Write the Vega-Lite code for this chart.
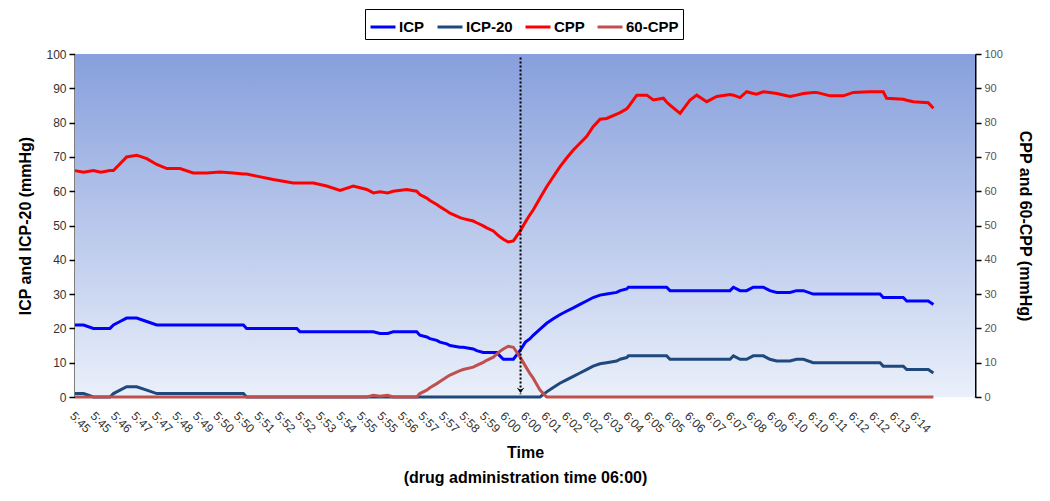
{
  "$schema": "https://vega.github.io/schema/vega-lite/v6.json",
  "width": 900,
  "height": 343,
  "autosize": "none",
  "padding": {"left": 75, "top": 54, "right": 75, "bottom": 104},
  "background": "white",
  "config": {
    "font": "Liberation Sans",
    "view": {"stroke": null},
    "axis": {"grid": false, "labelFont": "Liberation Sans", "titleFont": "Liberation Sans", "titleFontWeight": "bold", "titleColor": "black"},
    "axisX": {"labelOverlap": false, "labelFlush": false, "labelBound": false, "labelSeparation": 0}
  },
  "datasets": {
    "series": [
      {"m": 0, "ICP": 21, "ICP-20": 1, "CPP": 66, "60-CPP": 0},
      {"m": 0.3, "ICP": 21, "ICP-20": 1, "CPP": 65.5, "60-CPP": 0},
      {"m": 0.64, "ICP": 20, "ICP-20": 0, "CPP": 66, "60-CPP": 0},
      {"m": 0.9, "ICP": 20, "ICP-20": 0, "CPP": 65.5, "60-CPP": 0},
      {"m": 1.22, "ICP": 20, "ICP-20": 0, "CPP": 66, "60-CPP": 0},
      {"m": 1.34, "ICP": 21, "ICP-20": 1, "CPP": 66, "60-CPP": 0},
      {"m": 1.57, "ICP": 22, "ICP-20": 2, "CPP": 68, "60-CPP": 0},
      {"m": 1.8, "ICP": 23, "ICP-20": 3, "CPP": 70, "60-CPP": 0},
      {"m": 2.15, "ICP": 23, "ICP-20": 3, "CPP": 70.5, "60-CPP": 0},
      {"m": 2.5, "ICP": 22, "ICP-20": 2, "CPP": 69.5, "60-CPP": 0},
      {"m": 2.85, "ICP": 21, "ICP-20": 1, "CPP": 67.8, "60-CPP": 0},
      {"m": 3.2, "ICP": 21, "ICP-20": 1, "CPP": 66.6, "60-CPP": 0},
      {"m": 3.66, "ICP": 21, "ICP-20": 1, "CPP": 66.6, "60-CPP": 0},
      {"m": 4.12, "ICP": 21, "ICP-20": 1, "CPP": 65.3, "60-CPP": 0},
      {"m": 4.59, "ICP": 21, "ICP-20": 1, "CPP": 65.3, "60-CPP": 0},
      {"m": 5.05, "ICP": 21, "ICP-20": 1, "CPP": 65.6, "60-CPP": 0},
      {"m": 5.52, "ICP": 21, "ICP-20": 1, "CPP": 65.3, "60-CPP": 0},
      {"m": 5.87, "ICP": 21, "ICP-20": 1, "CPP": 65, "60-CPP": 0},
      {"m": 5.98, "ICP": 20, "ICP-20": 0, "CPP": 65, "60-CPP": 0},
      {"m": 6.33, "ICP": 20, "ICP-20": 0, "CPP": 64.4, "60-CPP": 0},
      {"m": 6.91, "ICP": 20, "ICP-20": 0, "CPP": 63.4, "60-CPP": 0},
      {"m": 7.61, "ICP": 20, "ICP-20": 0, "CPP": 62.4, "60-CPP": 0},
      {"m": 7.73, "ICP": 20, "ICP-20": 0, "CPP": 62.4, "60-CPP": 0},
      {"m": 7.84, "ICP": 19, "ICP-20": 0, "CPP": 62.4, "60-CPP": 0},
      {"m": 8.31, "ICP": 19, "ICP-20": 0, "CPP": 62.4, "60-CPP": 0},
      {"m": 8.77, "ICP": 19, "ICP-20": 0, "CPP": 61.5, "60-CPP": 0},
      {"m": 9.24, "ICP": 19, "ICP-20": 0, "CPP": 60.2, "60-CPP": 0},
      {"m": 9.7, "ICP": 19, "ICP-20": 0, "CPP": 61.5, "60-CPP": 0},
      {"m": 10.17, "ICP": 19, "ICP-20": 0, "CPP": 60.5, "60-CPP": 0},
      {"m": 10.4, "ICP": 19, "ICP-20": 0, "CPP": 59.5, "60-CPP": 0.5},
      {"m": 10.63, "ICP": 18.5, "ICP-20": 0, "CPP": 59.8, "60-CPP": 0.2},
      {"m": 10.9, "ICP": 18.5, "ICP-20": 0, "CPP": 59.5, "60-CPP": 0.5},
      {"m": 11.09, "ICP": 19, "ICP-20": 0, "CPP": 60, "60-CPP": 0},
      {"m": 11.56, "ICP": 19, "ICP-20": 0, "CPP": 60.5, "60-CPP": 0},
      {"m": 11.91, "ICP": 19, "ICP-20": 0, "CPP": 60, "60-CPP": 0},
      {"m": 12.02, "ICP": 18, "ICP-20": 0, "CPP": 59, "60-CPP": 1},
      {"m": 12.26, "ICP": 17.5, "ICP-20": 0, "CPP": 58, "60-CPP": 2},
      {"m": 12.37, "ICP": 17, "ICP-20": 0, "CPP": 57.3, "60-CPP": 2.7},
      {"m": 12.61, "ICP": 16.5, "ICP-20": 0, "CPP": 56.1, "60-CPP": 3.9},
      {"m": 12.72, "ICP": 16, "ICP-20": 0, "CPP": 55.5, "60-CPP": 4.5},
      {"m": 12.96, "ICP": 15.5, "ICP-20": 0, "CPP": 54.2, "60-CPP": 5.8},
      {"m": 13.07, "ICP": 15, "ICP-20": 0, "CPP": 53.6, "60-CPP": 6.4},
      {"m": 13.42, "ICP": 14.5, "ICP-20": 0, "CPP": 52.3, "60-CPP": 7.7},
      {"m": 13.53, "ICP": 14.5, "ICP-20": 0, "CPP": 52, "60-CPP": 8},
      {"m": 13.88, "ICP": 14, "ICP-20": 0, "CPP": 51.3, "60-CPP": 8.7},
      {"m": 14.0, "ICP": 13.5, "ICP-20": 0, "CPP": 50.8, "60-CPP": 9.2},
      {"m": 14.23, "ICP": 13, "ICP-20": 0, "CPP": 49.9, "60-CPP": 10.1},
      {"m": 14.35, "ICP": 13, "ICP-20": 0, "CPP": 49.3, "60-CPP": 10.7},
      {"m": 14.58, "ICP": 13, "ICP-20": 0, "CPP": 48.4, "60-CPP": 11.6},
      {"m": 14.7, "ICP": 13, "ICP-20": 0, "CPP": 47.5, "60-CPP": 12.5},
      {"m": 14.81, "ICP": 12, "ICP-20": 0, "CPP": 46.7, "60-CPP": 13.3},
      {"m": 14.93, "ICP": 11, "ICP-20": 0, "CPP": 46, "60-CPP": 14},
      {"m": 15.1, "ICP": 11, "ICP-20": 0, "CPP": 45.2, "60-CPP": 14.8},
      {"m": 15.28, "ICP": 11, "ICP-20": 0, "CPP": 45.5, "60-CPP": 14.5},
      {"m": 15.51, "ICP": 13.5, "ICP-20": 0, "CPP": 48.3, "60-CPP": 11.7},
      {"m": 15.7, "ICP": 16, "ICP-20": 0, "CPP": 51, "60-CPP": 9},
      {"m": 15.86, "ICP": 17, "ICP-20": 0, "CPP": 53.2, "60-CPP": 6.8},
      {"m": 15.97, "ICP": 18, "ICP-20": 0, "CPP": 54.5, "60-CPP": 5.5},
      {"m": 16.21, "ICP": 19.8, "ICP-20": 0, "CPP": 58, "60-CPP": 2},
      {"m": 16.44, "ICP": 21.5, "ICP-20": 1.5, "CPP": 61.3, "60-CPP": 0},
      {"m": 16.67, "ICP": 22.8, "ICP-20": 2.8, "CPP": 64.2, "60-CPP": 0},
      {"m": 16.9, "ICP": 24, "ICP-20": 4, "CPP": 67.1, "60-CPP": 0},
      {"m": 17.13, "ICP": 25, "ICP-20": 5, "CPP": 69.6, "60-CPP": 0},
      {"m": 17.37, "ICP": 26, "ICP-20": 6, "CPP": 72, "60-CPP": 0},
      {"m": 17.6, "ICP": 27, "ICP-20": 7, "CPP": 74, "60-CPP": 0},
      {"m": 17.83, "ICP": 28, "ICP-20": 8, "CPP": 75.9, "60-CPP": 0},
      {"m": 18.06, "ICP": 29, "ICP-20": 9, "CPP": 78.8, "60-CPP": 0},
      {"m": 18.3, "ICP": 29.7, "ICP-20": 9.7, "CPP": 81, "60-CPP": 0},
      {"m": 18.53, "ICP": 30, "ICP-20": 10, "CPP": 81.2, "60-CPP": 0},
      {"m": 18.88, "ICP": 30.5, "ICP-20": 10.5, "CPP": 82.5, "60-CPP": 0},
      {"m": 19.0, "ICP": 31, "ICP-20": 11, "CPP": 82.9, "60-CPP": 0},
      {"m": 19.23, "ICP": 31.5, "ICP-20": 11.5, "CPP": 84, "60-CPP": 0},
      {"m": 19.29, "ICP": 32, "ICP-20": 12, "CPP": 84.6, "60-CPP": 0},
      {"m": 19.58, "ICP": 32, "ICP-20": 12, "CPP": 88, "60-CPP": 0},
      {"m": 19.93, "ICP": 32, "ICP-20": 12, "CPP": 88, "60-CPP": 0},
      {"m": 20.16, "ICP": 32, "ICP-20": 12, "CPP": 86.6, "60-CPP": 0},
      {"m": 20.51, "ICP": 32, "ICP-20": 12, "CPP": 87.1, "60-CPP": 0},
      {"m": 20.62, "ICP": 32, "ICP-20": 12, "CPP": 86, "60-CPP": 0},
      {"m": 20.74, "ICP": 31, "ICP-20": 11, "CPP": 85.1, "60-CPP": 0},
      {"m": 21.09, "ICP": 31, "ICP-20": 11, "CPP": 82.7, "60-CPP": 0},
      {"m": 21.44, "ICP": 31, "ICP-20": 11, "CPP": 86.6, "60-CPP": 0},
      {"m": 21.67, "ICP": 31, "ICP-20": 11, "CPP": 88, "60-CPP": 0},
      {"m": 22.02, "ICP": 31, "ICP-20": 11, "CPP": 86.1, "60-CPP": 0},
      {"m": 22.37, "ICP": 31, "ICP-20": 11, "CPP": 87.6, "60-CPP": 0},
      {"m": 22.83, "ICP": 31, "ICP-20": 11, "CPP": 88.2, "60-CPP": 0},
      {"m": 22.95, "ICP": 32, "ICP-20": 12, "CPP": 88, "60-CPP": 0},
      {"m": 23.18, "ICP": 31, "ICP-20": 11, "CPP": 87.3, "60-CPP": 0},
      {"m": 23.41, "ICP": 31, "ICP-20": 11, "CPP": 89, "60-CPP": 0},
      {"m": 23.64, "ICP": 32, "ICP-20": 12, "CPP": 88.5, "60-CPP": 0},
      {"m": 23.76, "ICP": 32, "ICP-20": 12, "CPP": 88.3, "60-CPP": 0},
      {"m": 23.99, "ICP": 32, "ICP-20": 12, "CPP": 89, "60-CPP": 0},
      {"m": 24.22, "ICP": 31, "ICP-20": 11, "CPP": 88.8, "60-CPP": 0},
      {"m": 24.46, "ICP": 30.5, "ICP-20": 10.5, "CPP": 88.5, "60-CPP": 0},
      {"m": 24.92, "ICP": 30.5, "ICP-20": 10.5, "CPP": 87.6, "60-CPP": 0},
      {"m": 25.15, "ICP": 31, "ICP-20": 11, "CPP": 88, "60-CPP": 0},
      {"m": 25.39, "ICP": 31, "ICP-20": 11, "CPP": 88.5, "60-CPP": 0},
      {"m": 25.73, "ICP": 30, "ICP-20": 10, "CPP": 88.8, "60-CPP": 0},
      {"m": 25.85, "ICP": 30, "ICP-20": 10, "CPP": 88.8, "60-CPP": 0},
      {"m": 26.32, "ICP": 30, "ICP-20": 10, "CPP": 87.8, "60-CPP": 0},
      {"m": 26.78, "ICP": 30, "ICP-20": 10, "CPP": 87.8, "60-CPP": 0},
      {"m": 27.13, "ICP": 30, "ICP-20": 10, "CPP": 88.8, "60-CPP": 0},
      {"m": 27.71, "ICP": 30, "ICP-20": 10, "CPP": 89, "60-CPP": 0},
      {"m": 28.06, "ICP": 30, "ICP-20": 10, "CPP": 89, "60-CPP": 0},
      {"m": 28.17, "ICP": 29, "ICP-20": 9, "CPP": 89, "60-CPP": 0},
      {"m": 28.29, "ICP": 29, "ICP-20": 9, "CPP": 87.1, "60-CPP": 0},
      {"m": 28.87, "ICP": 29, "ICP-20": 9, "CPP": 86.8, "60-CPP": 0},
      {"m": 28.99, "ICP": 28, "ICP-20": 8, "CPP": 86.5, "60-CPP": 0},
      {"m": 29.22, "ICP": 28, "ICP-20": 8, "CPP": 86.1, "60-CPP": 0},
      {"m": 29.74, "ICP": 28, "ICP-20": 8, "CPP": 85.8, "60-CPP": 0},
      {"m": 29.92, "ICP": 27, "ICP-20": 7, "CPP": 84.2, "60-CPP": 0}
    ],
    "drug": [{"m": 15.53, "top": 99, "bottom": 0.8, "tip": 1.2}],
    "frame": [{"x0": 0, "x1": 31.37, "y0": 0, "y1": 100}]
  },
  "resolve": {"scale": {"y": "independent"}},
  "layer": [
    {
      "data": {"name": "frame"},
      "mark": {"type": "rect", "color": {"gradient": "linear", "x1": 0, "y1": 0, "x2": 0, "y2": 1, "stops": [{"offset": 0, "color": "#879fdc"}, {"offset": 1, "color": "#eaf0fa"}]}},
      "encoding": {
        "x": {
          "field": "x0", "type": "quantitative",
          "scale": {"domain": [0, 31.37], "nice": false, "zero": false},
          "axis": {
            "values": [0, 0.7143, 1.4286, 2.1429, 2.8571, 3.5714, 4.2857, 5, 5.7143, 6.4286, 7.1429, 7.8571, 8.5714, 9.2857, 10, 10.7143, 11.4286, 12.1429, 12.8571, 13.5714, 14.2857, 15, 15.7143, 16.4286, 17.1429, 17.8571, 18.5714, 19.2857, 20, 20.7143, 21.4286, 22.1429, 22.8571, 23.5714, 24.2857, 25, 25.7143, 26.4286, 27.1429, 27.8571, 28.5714, 29.2857],
            "tickCount": 60,
            "labelExpr": "floor(datum.value + 0.001) < 15 ? '5:' + (45 + floor(datum.value + 0.001)) : '6:' + (floor(datum.value + 0.001) < 25 ? '0' : '') + (floor(datum.value + 0.001) - 15)",
            "labelAngle": 45,
            "labelAlign": "left",
            "labelBaseline": "top",
            "labelFontSize": 12,
            "labelColor": "#333333",
            "labelOverlap": false,
            "labelFlush": false,
            "labelBound": false,
            "labelPadding": 13,
            "domain": false,
            "ticks": false,
            "title": ["Time", "(drug administration time 06:00)"],
            "titleFontSize": 16,
            "titleLineHeight": 25,
            "titlePadding": 10
          }
        },
        "x2": {"field": "x1"},
        "y": {"field": "y0", "type": "quantitative", "scale": {"domain": [0, 100], "nice": false}, "axis": null},
        "y2": {"field": "y1"}
      }
    },
    {
      "data": {"name": "series"},
      "transform": [{"fold": ["ICP", "ICP-20", "CPP", "60-CPP"], "as": ["series", "value"]}],
      "mark": {"type": "line", "strokeWidth": 3, "interpolate": "linear"},
      "encoding": {
        "x": {"field": "m", "type": "quantitative", "scale": {"domain": [0, 31.37], "nice": false, "zero": false}},
        "y": {
          "field": "value", "type": "quantitative",
          "scale": {"domain": [0, 100], "nice": false},
          "axis": {
            "orient": "left",
            "values": [0, 10, 20, 30, 40, 50, 60, 70, 80, 90, 100],
            "tickCount": 20,
            "domainColor": "black", "domainWidth": 2,
            "tickColor": "black", "tickSize": 6, "tickWidth": 1.5,
            "labelFontSize": 12, "labelColor": "#333333", "labelPadding": 3,
            "title": "ICP and ICP-20 (mmHg)", "titleFontSize": 16, "titlePadding": 12
          }
        },
        "color": {
          "field": "series", "type": "nominal",
          "scale": {"domain": ["ICP", "ICP-20", "CPP", "60-CPP"], "range": ["#0000ff", "#1f497d", "#ff0000", "#c0504d"]},
          "legend": {
            "orient": "none", "legendX": 290, "legendY": -45,
            "direction": "horizontal", "title": null,
            "symbolType": "stroke", "symbolSize": 625, "symbolStrokeWidth": 3,
            "labelFont": "Liberation Sans", "labelFontWeight": "bold", "labelFontSize": 15, "labelColor": "black",
            "labelOffset": 2, "columnPadding": 6,
            "strokeColor": "black", "fillColor": "white", "padding": 4
          }
        }
      }
    },
    {
      "data": {"name": "drug"},
      "mark": {"type": "rule", "color": "black", "strokeWidth": 2, "strokeDash": [2, 2]},
      "encoding": {
        "x": {"field": "m", "type": "quantitative", "scale": {"domain": [0, 31.37], "nice": false, "zero": false}},
        "y": {
          "field": "top", "type": "quantitative",
          "scale": {"domain": [0, 100], "nice": false},
          "axis": {
            "orient": "right",
            "values": [0, 10, 20, 30, 40, 50, 60, 70, 80, 90, 100],
            "tickCount": 20,
            "domainColor": "black", "domainWidth": 2,
            "tickColor": "black", "tickSize": 6, "tickWidth": 1.5,
            "labelFontSize": 11, "labelColor": "#555555", "labelPadding": 3,
            "title": "CPP and 60-CPP (mmHg)", "titleAngle": 90, "titleFontSize": 16, "titlePadding": 14
          }
        },
        "y2": {"field": "bottom"}
      }
    },
    {
      "data": {"name": "drug"},
      "mark": {"type": "point", "shape": "M-1,-1.4L0,0L1,-1.4L0,-0.8Z", "filled": true, "color": "black", "size": 60, "opacity": 1},
      "encoding": {
        "x": {"field": "m", "type": "quantitative", "scale": {"domain": [0, 31.37], "nice": false, "zero": false}},
        "y": {"field": "tip", "type": "quantitative", "scale": {"domain": [0, 100], "nice": false}, "axis": null}
      }
    }
  ]
}
